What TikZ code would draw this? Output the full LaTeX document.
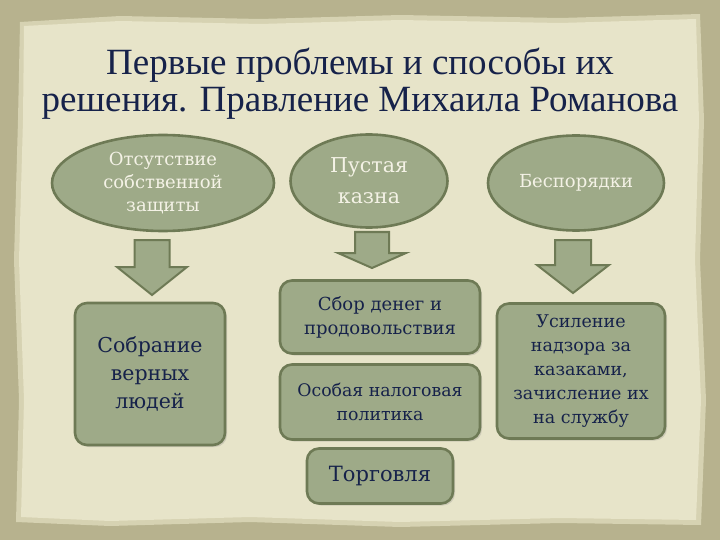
\documentclass[tikz,border=0pt]{standalone}
\usepackage{fontspec}
\setmainfont{DejaVu Serif}
\newfontfamily\titlefont{Liberation Serif}
\usetikzlibrary{shapes.geometric,shadows}
\definecolor{outerbg}{HTML}{B7B28E}
\definecolor{paper}{HTML}{E7E4C9}
\definecolor{paperedge}{HTML}{D6D2B2}
\definecolor{boxfill}{HTML}{9EAA88}
\definecolor{boxline}{HTML}{6E7A55}
\definecolor{navy}{HTML}{16224A}
\definecolor{lighttext}{HTML}{F4F2E6}
\tikzset{
  oval/.style={ellipse, fill=boxfill, draw=boxline, line width=2.6pt, align=center,
    text=lighttext, inner sep=0pt},
  rbox/.style={rectangle, rounded corners=12pt, fill=boxfill, draw=boxline, line width=2.6pt,
    align=center, text=navy, inner sep=0pt,
    drop shadow={shadow xshift=2pt, shadow yshift=-2pt, opacity=0.25}},
  blockarrow/.style={fill=boxfill, draw=boxline, line width=2pt, line join=miter}
}
\newcommand{\downarrowblock}[5]{% x, top, neck, tip, head half width
  \filldraw[blockarrow] (#1-#5*0.5,#2) -- (#1+#5*0.5,#2) -- (#1+#5*0.5,#3) -- (#1+#5,#3)
    -- (#1,#4) -- (#1-#5,#3) -- (#1-#5*0.5,#3) -- cycle;}
\begin{document}
\begin{tikzpicture}[x=1pt,y=-1pt]
\useasboundingbox (0,0) rectangle (720,540);
% background
\fill[outerbg] (0,0) rectangle (720,540);
\fill[paperedge] (20,22) -- (120,16) -- (260,19) -- (400,15) -- (560,18) -- (700,14)
  -- (704,120) -- (700,260) -- (706,400) -- (701,525) -- (560,523) -- (400,527)
  -- (250,522) -- (110,526) -- (16,522) -- (19,400) -- (14,260) -- (18,120) -- cycle;
\fill[paper] (24,26) -- (120,21) -- (260,24) -- (400,20) -- (560,23) -- (696,19)
  -- (699,120) -- (695,260) -- (701,400) -- (696,520) -- (560,518) -- (400,522)
  -- (250,517) -- (110,521) -- (21,517) -- (24,400) -- (19,260) -- (23,120) -- cycle;
% title
\node[text=navy, font=\titlefont\fontsize{37}{37}\selectfont, align=center] (title) at (360,84)
  {Первые проблемы и способы их\\решения. Правление Михаила Романова};
% ellipses
\node[oval, minimum width=222pt, minimum height=96pt, font=\fontsize{18}{23}\selectfont]
  (p1) at (163,183) {Отсутствие\\собственной\\защиты};
\node[oval, minimum width=157pt, minimum height=93pt, font=\fontsize{20.5}{31}\selectfont]
  (p2) at (369,181) {Пустая\\казна};
\node[oval, minimum width=176pt, minimum height=95pt, font=\fontsize{18}{22}\selectfont]
  (p3) at (576,183) {Беспорядки};
% arrows
\downarrowblock{152}{240}{267}{295}{35}
\downarrowblock{372}{232}{253}{268}{34}
\downarrowblock{573}{240}{265}{293}{36}
% boxes
\node[rbox, minimum width=150pt, minimum height=142pt, font=\fontsize{20.5}{28}\selectfont]
  (s1) at (150,374) {Собрание\\верных\\людей};
\node[rbox, minimum width=200pt, minimum height=73pt, font=\fontsize{18}{24}\selectfont]
  (s2) at (380,317) {Сбор денег и\\продовольствия};
\node[rbox, minimum width=200pt, minimum height=75pt, font=\fontsize{17.3}{24}\selectfont]
  (s3) at (380,402) {Особая налоговая\\политика};
\node[rbox, minimum width=146pt, minimum height=55pt, font=\fontsize{21}{24}\selectfont]
  (s4) at (380,476) {Торговля};
\node[rbox, minimum width=168pt, minimum height=135pt, font=\fontsize{17.5}{24}\selectfont]
  (s5) at (581,371) {Усиление\\надзора за\\казаками,\\зачисление их\\на службу};
\end{tikzpicture}
\end{document}
